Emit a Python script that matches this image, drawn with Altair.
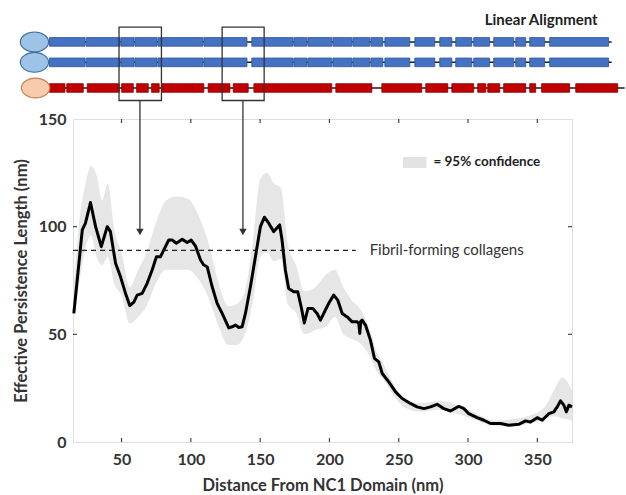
import altair as alt
import pandas as pd

# ---------------- data ----------------
# main curve: effective persistence length vs distance from NC1 domain
dist = [15.6, 21.7, 24, 27.6, 31.3, 35.4, 39.7, 42, 45.7, 49.3, 52.9, 56, 58.9, 61.3, 64.9,
        68.5, 72.1, 75.2, 78.1, 80.5, 84.1, 86.5, 89.6, 93.8, 97.4, 100.3, 103.4, 107, 109.3,
        111.8, 115.4, 119, 122.6, 127.4, 129.8, 132.2, 134.6, 137, 139.4, 143, 146.6, 150.2,
        153.1, 156.2, 159.8, 164.1, 165.8, 168.2, 170.6, 174.2, 177.1, 179.6, 181.9, 184.5,
        188, 191.1, 193.5, 197.1, 199.5, 203.1, 206, 209.2, 212.8, 216.4, 220, 221.2, 221.9,
        222.6, 223.6, 226, 229.6, 232.5, 235.6, 238.1, 242.8, 247.7, 252.5, 258.4, 263.2,
        268.2, 272.9, 277.7, 282.5, 287.4, 293.3, 297, 300.5, 306.6, 311.4, 316.2, 323.4,
        329.4, 336.6, 341.5, 345.1, 349.9, 353.5, 358.3, 361.9, 364.3, 366.7, 369.1, 371,
        372.7, 375]
plen = [59.7, 98.5, 101.6, 111.2, 100, 90.7, 100, 97.7, 83, 76.7, 69, 63.3, 65, 68.2, 69,
        73.7, 79.9, 86, 86, 89.2, 93.8, 93.8, 92.3, 94.1, 92.6, 93.8, 91, 84.5, 82.2,
        81.4, 72.1, 64.4, 59.7, 53, 53.5, 54.3, 53.2, 53.5, 59.7, 72.1, 86, 100,
        104.4, 101.6, 97.7, 100.8, 93.8, 79.9, 71.3, 69.8, 69.8, 62.8, 55.3, 62,
        62, 59.7, 56.6, 61.3, 64.4, 68.2, 65.9, 59.7, 58.1, 55.8, 55.8, 55, 50.4,
        56, 56.6, 54.3, 47.3, 38.8, 37.2, 31.8, 27.9, 23.3, 20.2, 17.9, 16.3,
        15.5, 16.3, 17.5, 15.5, 14.4, 16.6, 15.5, 13.2, 11.3, 10.1, 8.6, 8.6,
        7.8, 8.2, 9.8, 9.3, 11.3, 10.1, 13.2, 14, 16.3, 19.1, 17.1, 14,
        17.1, 16.3]

# 95% confidence band
band_x = [15, 20, 24, 28, 32, 36, 40, 45, 50, 56, 62, 68, 75, 82, 90, 98, 105, 112, 120, 127,
          133, 139, 145, 150, 155, 160, 165, 170, 176, 182, 190, 198, 204, 210, 216, 222, 228,
          234, 240, 248, 256, 265, 280, 300, 320, 340, 355, 362, 368, 375]
band_hi = [68, 105, 120, 128, 124, 112, 120, 98, 88, 72, 80, 88, 102, 112, 114, 113, 106, 94,
           74, 63, 64, 70, 95, 122, 125, 120, 118, 92, 82, 70, 72, 78, 80, 72, 66, 62, 54, 42,
           35, 25, 19, 18, 19, 15, 10, 11.5, 16, 24, 30, 24]
band_lo = [54, 76, 90, 96, 86, 82, 86, 73, 68, 55, 58, 63, 74, 80, 80, 80, 76, 68, 54, 45,
           45, 50, 66, 86, 88, 84, 85, 64, 60, 50, 52, 54, 58, 50, 48, 46, 41, 33, 28, 20,
           15.5, 14, 15, 11.5, 7.5, 8, 10.5, 12, 11, 10]

ref_level = 89          # fibril-forming collagens
ref_end = 219
x_ticks = [50, 100, 150, 200, 250, 300, 350]
y_ticks = [0, 50, 100, 150]

# linear alignment schematic (segment boundaries, nm)
blue_starts = [-2, 24.5, 49.5, 59.7, 76.3, 109.4, 144, 174.3, 184.4, 202.5, 216.9, 229.9, 240,
               261.6, 279.6, 291.1, 304.1, 318.5, 334.4, 344.5, 358.9]
blue_ends = [23.7, 48.9, 59, 75.6, 108.7, 140.5, 173.6, 183.7, 201.7, 216.2, 229.1, 238.5, 258,
             276, 288.3, 302.7, 315.6, 333, 341.6, 355.3, 401.4]
red_starts = [-2, 10.5, 25.3, 50.1, 60.9, 71.7, 78.9, 112.5, 130.6, 145.5, 204.6, 237.8, 269.5,
              288.3, 307, 314.2, 325.7, 344.5, 353.1, 377.7]
red_ends = [9.2, 22.4, 48.4, 58.5, 69.3, 77.2, 109.4, 128.2, 141.4, 201.7, 230.6, 266.6, 285.4,
            304.1, 312.8, 322.9, 341.6, 348.8, 373.3, 408]
chain_end = [403.6, 403.6, 413]
row_y = [185.8, 176.3, 164.4]
box_x0 = [48.2, 122.6]
box_x1 = [78.8, 152.9]
box_y = [158.6, 192.7]
arrow_x = [63.3, 137.6]
arrow_tip = 96

FONT = "Lato"
TXT = "#333333"

# ---------------- helpers ----------------
XS = alt.Scale(domain=[15, 375], nice=False, zero=False)
YS = alt.Scale(domain=[0, 150], nice=False, zero=False)
XAX = alt.Axis(values=x_ticks, ticks=False, domain=False, grid=False, labelPadding=9,
               labelFontSize=16, labelFontWeight="bold", labelColor=TXT, titleFontSize=16.5,
               titleFontWeight="bold", titleColor=TXT, titlePadding=10, labelFont=FONT,
               titleFont=FONT)
YAX = alt.Axis(values=y_ticks, ticks=False, domain=False, grid=False, labelPadding=7,
               labelFontSize=16, labelFontWeight="bold", labelColor=TXT, titleFontSize=16.5,
               titleFontWeight="bold", titleColor=TXT, titlePadding=9, labelFont=FONT,
               titleFont=FONT)
XT = "Distance From NC1 Domain (nm)"
YT = "Effective Persistence Length (nm)"


def X(f="x"):
    return alt.X(f"{f}:Q", scale=XS, axis=XAX, title=XT)


def Y(f="y"):
    return alt.Y(f"{f}:Q", scale=YS, axis=YAX, title=YT)


# ---------------- main plot ----------------
band_df = pd.DataFrame({"x": band_x, "y": band_lo, "y2": band_hi})
band = alt.Chart(band_df).mark_area(color="#e6e6e6", interpolate="monotone").encode(
    x=X(), y=Y(), y2="y2:Q")

line_df = pd.DataFrame({"x": dist, "y": plen})
line = alt.Chart(line_df).mark_line(color="black", strokeWidth=3, strokeJoin="round").encode(
    x=X(), y=Y())

ref_df = pd.DataFrame({"x": [15], "x2": [ref_end], "y": [ref_level]})
ref = alt.Chart(ref_df).mark_rule(color="#222", strokeWidth=1.3, strokeDash=[5, 4]).encode(
    x=X(), x2="x2:Q", y=Y())

ref_lbl = alt.Chart(pd.DataFrame({"x": [229], "y": [ref_level], "t": ["Fibril-forming collagens"]})
                    ).mark_text(align="left", baseline="middle", fontSize=15, font=FONT,
                                color=TXT).encode(x=X(), y=Y(), text="t:N")

leg_sw = alt.Chart(pd.DataFrame({"x": [253], "x2": [270], "y": [127.3], "y2": [132.4]})
                   ).mark_rect(color="#e3e3e3").encode(x=X(), x2="x2:Q", y=Y(), y2="y2:Q")
leg_txt = alt.Chart(pd.DataFrame({"x": [275], "y": [129.9], "t": ["= 95% confidence"]})
                    ).mark_text(align="left", baseline="middle", fontSize=13.5, font=FONT,
                                fontWeight="bold", color="#222").encode(x=X(), y=Y(), text="t:N")

# inward ticks
tk = []
for v in x_ticks:
    tk.append({"x": v, "x2": v, "y": 0, "y2": 1.9})
    tk.append({"x": v, "x2": v, "y": 150, "y2": 148.1})
for v in y_ticks[1:-1]:
    tk.append({"x": 15, "x2": 17.9, "y": v, "y2": v})
    tk.append({"x": 375, "x2": 372.1, "y": v, "y2": v})
ticks = alt.Chart(pd.DataFrame(tk)).mark_rule(color="#444", strokeWidth=1.2).encode(
    x=X(), x2="x2:Q", y=Y(), y2="y2:Q")

# ---------------- schematic ----------------
bb = pd.DataFrame({"x": [-2, -2, -2], "x2": chain_end, "y": row_y})
backbone = alt.Chart(bb).mark_rule(color="#1a1a1a", strokeWidth=1.5).encode(
    x=X(), x2="x2:Q", y=Y())

seg_rows = []
for r in range(2):
    for a, b in zip(blue_starts, blue_ends):
        seg_rows.append({"x": a, "x2": b, "y": row_y[r] - 2.0, "y2": row_y[r] + 2.0, "c": "blue"})
for a, b in zip(red_starts, red_ends):
    seg_rows.append({"x": a, "x2": b, "y": row_y[2] - 2.0, "y2": row_y[2] + 2.0, "c": "red"})
segs = alt.Chart(pd.DataFrame(seg_rows)).mark_rect(strokeWidth=0.8).encode(
    x=X(), x2="x2:Q", y=Y(), y2="y2:Q",
    fill=alt.Fill("c:N", scale=alt.Scale(domain=["blue", "red"], range=["#4472c4", "#c00000"]),
                  legend=None),
    stroke=alt.Stroke("c:N", scale=alt.Scale(domain=["blue", "red"], range=["#2f528f", "#8b0000"]),
                      legend=None))

ell_path = "M -1 0 A 1 0.7 0 1 0 1 0 A 1 0.7 0 1 0 -1 0 Z"
ell_df = pd.DataFrame({"x": [-12.8, -12.8, -12.0], "y": row_y, "c": ["b", "b", "o"]})
ells = alt.Chart(ell_df).mark_point(shape=ell_path, size=800, filled=True, opacity=1,
                                    strokeWidth=1.2).encode(
    x=X(), y=Y(),
    fill=alt.Fill("c:N", scale=alt.Scale(domain=["b", "o"], range=["#9dc3e6", "#f8cbad"]), legend=None),
    stroke=alt.Stroke("c:N", scale=alt.Scale(domain=["b", "o"], range=["#41719c", "#c5865a"]), legend=None))

box_df = pd.DataFrame({"x": box_x0, "x2": box_x1, "y": [box_y[0]] * 2, "y2": [box_y[1]] * 2})
boxes = alt.Chart(box_df).mark_rect(fillOpacity=0, stroke="#333", strokeWidth=1.3).encode(
    x=X(), x2="x2:Q", y=Y(), y2="y2:Q")

arr_df = pd.DataFrame({"x": arrow_x, "y": [box_y[0]] * 2, "y2": [arrow_tip + 2] * 2})
arrows = alt.Chart(arr_df).mark_rule(color="#333", strokeWidth=1.3).encode(
    x=X(), y=Y(), y2="y2:Q")
heads = alt.Chart(pd.DataFrame({"x": arrow_x, "y": [arrow_tip + 1.5] * 2})).mark_point(
    shape="triangle-down", size=55, filled=True, color="#333", opacity=1).encode(x=X(), y=Y())

title_txt = alt.Chart(pd.DataFrame({"x": [393.5], "y": [196.1], "t": ["Linear Alignment"]})
                      ).mark_text(align="right", baseline="middle", fontSize=15, font=FONT,
                                  fontWeight="bold", color="#222").encode(x=X(), y=Y(), text="t:N")

chart = alt.layer(band, ref, line, ticks, ref_lbl, leg_sw, leg_txt,
                  backbone, segs, ells, boxes, arrows, heads, title_txt).properties(
    width=499, height=323,
    autosize=alt.AutoSizeParams(type="none"),
    padding={"left": 73, "top": 119, "right": 54, "bottom": 53},
).resolve_scale(fill="independent", stroke="independent").configure_view(
    stroke="#555", strokeWidth=1.2).configure(background="white")

chart.save("out.html", embed_options={"renderer": "svg", "actions": False})
